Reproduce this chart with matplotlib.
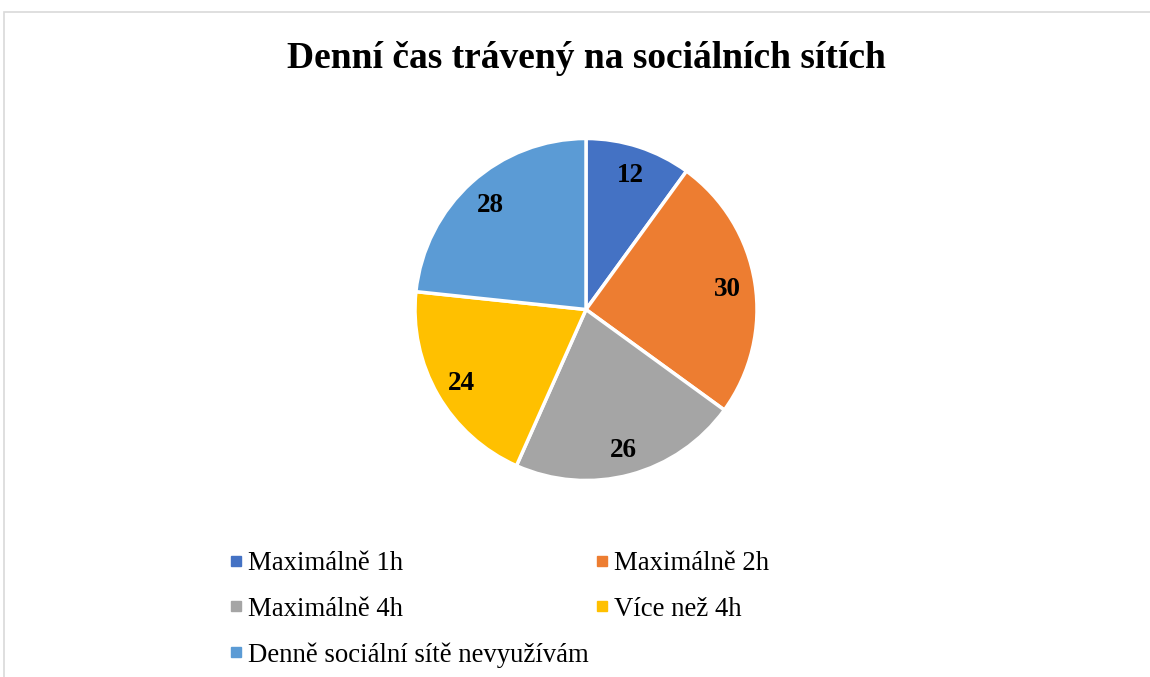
import matplotlib
matplotlib.use("Agg")
import matplotlib.pyplot as plt
from matplotlib.lines import Line2D
from matplotlib.patches import Rectangle

title = "Denní čas trávený na sociálních sítích"
categories = ["Maximálně 1h", "Maximálně 2h", "Maximálně 4h", "Více než 4h",
              "Denně sociální sítě nevyužívám"]
values = [12, 30, 26, 24, 28]
colors = ["#4472C4", "#ED7D31", "#A5A5A5", "#FFC000", "#5B9BD5"]

plt.rcParams['font.family'] = ['Liberation Serif', 'DejaVu Serif']

W, H = 1150, 677
fig = plt.figure(figsize=(W / 100, H / 100), dpi=100)
fig.patch.set_facecolor("white")

# chart border
fig.patches.append(Rectangle((4 / W, -0.1), 1.2, 1 - 12 / H + 0.1, transform=fig.transFigure,
                             fill=False, edgecolor="#D9D9D9", linewidth=1.2))

cx, cy, r = 586, 309.5, 171
ax = fig.add_axes([(cx - r) / W, (H - cy - r) / H, 2 * r / W, 2 * r / H])
wedges, texts = ax.pie(values, colors=colors, startangle=90, counterclock=False,
                       labels=[str(v) for v in values], labeldistance=0.84,
                       wedgeprops=dict(edgecolor="white", linewidth=2.5),
                       textprops=dict(fontsize=19.5, fontweight="bold", color="black"))
for t in texts:
    t.set_ha("center")
    t.set_va("center")
    x, y = t.get_position()
    t.set_position((x, y - 0.015))
ax.set_xlim(-1, 1)
ax.set_ylim(-1, 1)
ax.set_aspect("equal")

fig.text(586 / W, 1 - 59 / H, title, ha="center", va="center", fontsize=27, fontweight="bold")

order = [0, 2, 4, 1, 3]
handles = [Line2D([], [], marker="s", linestyle="none", markersize=7.2,
                  markerfacecolor=colors[i], markeredgecolor=colors[i]) for i in order]
labels = [categories[i] for i in order]
leg = fig.legend(handles, labels, ncol=2, loc="upper left",
                 bbox_to_anchor=(227.5 / W, 1 - 551 / H), frameon=False,
                 fontsize=19.3, handlelength=0.6, handletextpad=0.15,
                 columnspacing=0.22, labelspacing=0.77, borderpad=0, borderaxespad=0)

fig.savefig("out.png", dpi=100, facecolor="white")
